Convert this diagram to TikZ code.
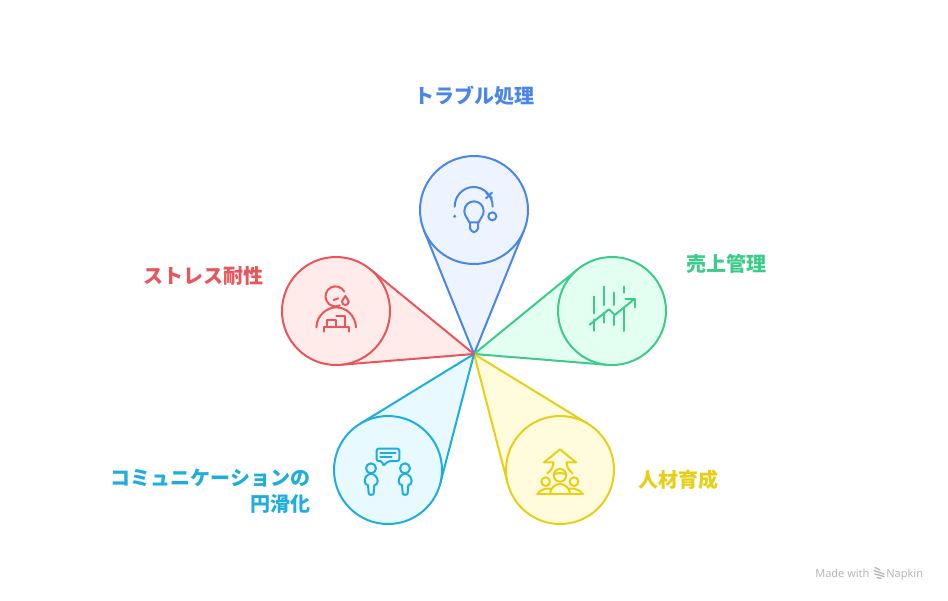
\documentclass[tikz,border=0pt]{standalone}
\usepackage{fontspec}
\usetikzlibrary{calc}
\newfontfamily\cjkf{Noto Sans CJK JP}
\setmainfont{Noto Sans}
\definecolor{cblue}{HTML}{4A86E8}\definecolor{fblue}{HTML}{EDF4FF}
\definecolor{cgreen}{HTML}{3CCB8A}\definecolor{fgreen}{HTML}{E3FFF1}
\definecolor{cyell}{HTML}{E6CF17}\definecolor{fyell}{HTML}{FFFBDC}
\definecolor{ccyan}{HTML}{1EAEDB}\definecolor{fcyan}{HTML}{E8F9FF}
\definecolor{cred}{HTML}{E8555A}\definecolor{fred}{HTML}{FFEBEA}
\definecolor{cgray}{HTML}{B5B5B5}
\tikzset{
  x=0.75pt,y=-0.75pt,
  petal/.style={circle,minimum size=81pt,inner sep=0pt,outer sep=0pt,line width=1.5pt},
  wedge/.style={line width=1.5pt,line join=round},
  icon/.style={line width=1.5pt,line cap=round,line join=round,draw=#1},
  label/.style={font=\cjkf\bfseries\fontsize{15}{19.5}\selectfont,inner sep=0pt,text=#1},
  credit/.style={font=\fontsize{8.25}{10}\selectfont,inner sep=0pt,text=cgray}
}
\newcommand{\petalshape}[5]{% name, x, y, line, fill
  \node[petal] (#1) at (#2,#3) {};
  \draw[wedge,draw=#4,fill=#5] (hub) -- (tangent cs:node=#1,point={(hub)},solution=1)
     -- (tangent cs:node=#1,point={(hub)},solution=2) -- cycle;
  \node[petal,draw=#4,fill=#5] at (#1) {};
}
\begin{document}
\begin{tikzpicture}
\useasboundingbox (0,0) rectangle (948,600);
\coordinate (hub) at (474,354);
\petalshape{pblue}{474}{210}{cblue}{fblue}
\petalshape{pgreen}{612}{311}{cgreen}{fgreen}
\petalshape{pyell}{560}{470}{cyell}{fyell}
\petalshape{pcyan}{388}{470}{ccyan}{fcyan}
\petalshape{pred}{336}{311}{cred}{fred}

% blue icon
\begin{scope}[shift={(410,145)},x=0.25pt,y=-0.25pt]
  \draw[icon=cblue] (134,185) arc[start angle=180,end angle=360,x radius=57,y radius=59];
  \draw[icon=cblue] (228,160) -- (246,143);
  \draw[icon=cblue] (228,143) -- (246,160);
  \draw[icon=cblue] (178,232) .. controls (172,218) and (163,212) .. (163,198)
      arc[start angle=180,end angle=360,radius=29]
      .. controls (221,212) and (212,218) .. (206,232) -- cycle;
  \draw[icon=cblue] (180,232) -- (180,250) .. controls (180,256) and (186,258) .. (192,262)
      .. controls (198,258) and (204,256) .. (204,250) -- (204,232);
  \draw[icon=cblue] (247,214) circle[radius=12];
  \fill[cblue] (134,214) circle[radius=5];
\end{scope}

% green icon
\begin{scope}[shift={(548,250)},x=0.25pt,y=-0.25pt]
  \draw[icon=cgreen] (139,140) -- (139,190) (139,208) -- (139,242);
  \draw[icon=cgreen] (169,110) -- (169,165) (169,190) -- (169,218);
  \draw[icon=cgreen] (199,128) -- (199,165) (199,198) -- (199,225);
  \draw[icon=cgreen] (229,110) -- (229,128) (229,175) -- (229,243);
  \draw[icon=cgreen] (125,224) -- (183,178) -- (200,195) -- (258,148);
  \draw[icon=cgreen] (232,148) -- (260,148) -- (260,172);
\end{scope}

% yellow icon
\begin{scope}[shift={(495,410)},x=0.25pt,y=-0.25pt]
  \draw[icon=cyell] (157,190) .. controls (170,180) and (175,170) .. (175,157) -- (147,157) -- (195,118)
     -- (243,157) -- (215,157) .. controls (215,170) and (220,180) .. (233,190);
  \draw[icon=cyell] (195,196) circle[radius=19];
  \draw[icon=cyell] (177,193) .. controls (188,188) and (202,188) .. (213,193);
  \draw[icon=cyell] (152,215) circle[radius=13];
  \draw[icon=cyell] (237,215) circle[radius=13];
  \draw[icon=cyell] (165,253) .. controls (165,235) and (180,222) .. (195,222) .. controls (210,222) and (225,235) .. (225,253);
  \draw[icon=cyell] (128,253) .. controls (132,242) and (145,234) .. (168,236);
  \draw[icon=cyell] (262,253) .. controls (258,242) and (245,234) .. (222,236);
  \draw[icon=cyell] (126,253) -- (264,253);
\end{scope}

% cyan icon
\begin{scope}[shift={(325,410)},x=0.25pt,y=-0.25pt]
  \draw[icon=ccyan,rounded corners=1.5pt] (155,116) -- (223,116) -- (223,153) -- (190,153) -- (174,168) -- (172,153) -- (155,153) -- cycle;
  \draw[icon=ccyan] (166,128) -- (212,128) (166,141) -- (200,141);
  \foreach \dx in {0,102}{
    \begin{scope}[xshift=\dx*0.25pt]
      \draw[icon=ccyan] (138,175) circle[radius=15];
      \draw[icon=ccyan] (138,191) .. controls (126,193) and (119,202) .. (119,214)
         .. controls (119,222) and (124,225) .. (129,225) -- (131,250)
         .. controls (131,256) and (146,256) .. (146,250) -- (148,225)
         .. controls (153,225) and (158,222) .. (158,214)
         .. controls (158,202) and (150,193) .. (138,191) -- cycle;
    \end{scope}
  }
\end{scope}

% red icon
\begin{scope}[shift={(272,250)},x=0.25pt,y=-0.25pt]
  \draw[icon=cred] (217,125) arc[start angle=-28,end angle=-295,radius=30];
  \draw[icon=cred] (185,150) -- (199,145);
  \draw[icon=cred] (220,138) .. controls (216,146) and (210,150) .. (210,155)
     arc[start angle=-180,end angle=-360,radius=10] .. controls (230,150) and (224,146) .. (220,138) -- cycle;
  \draw[icon=cred] (133,232) .. controls (135,195) and (165,172) .. (193,172) .. controls (221,172) and (250,195) .. (252,232);
  \draw[icon=cred] (165,231) -- (165,210) -- (193,210) -- (193,231);
  \draw[icon=cred] (193,198) -- (220,198) -- (220,231);
  \draw[icon=cred] (155,245) -- (155,232) -- (232,232) -- (232,245);
\end{scope}

% labels
\node[label=cblue,anchor=center] (tblue) at (474.5,96) {トラブル処理};
\node[label=cgreen,anchor=west] (tgreen) at (686,264) {売上管理};
\node[label=cyell,anchor=west] (tyell) at (638,479.5) {人材育成};
\node[label=ccyan,anchor=east,align=right] (tcyan) at (310.5,491.5) {コミュニケーションの\\円滑化};
\node[label=cred,anchor=east] (tred) at (264,276) {ストレス耐性};

% credit
\node[credit,anchor=base west] (cmade) at (815,577) {Made with};
\node[credit,anchor=base west] (cnap) at (886,577) {Napkin};
\draw[cgray,line width=1pt,line cap=round] (875,567.5) -- (880,570) (874,570.5) -- (884,574) (875,574) -- (884,576.5) (877,577.5) -- (881,578.5);
\end{tikzpicture}
\end{document}
